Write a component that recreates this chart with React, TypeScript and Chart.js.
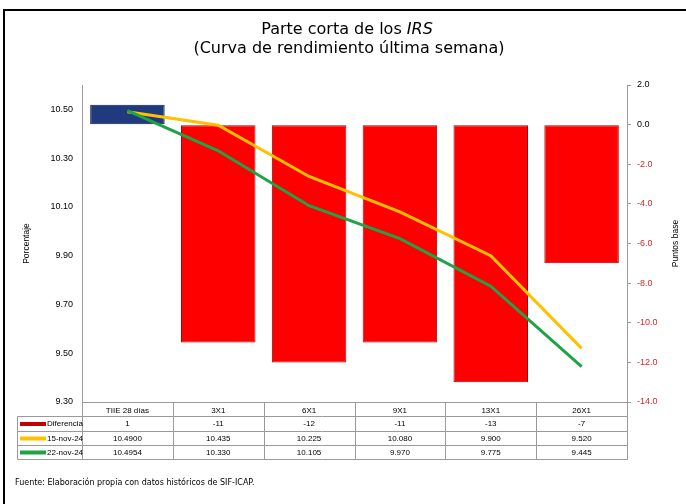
import React, { useEffect, useRef } from "react";
import { Chart, registerables } from "chart.js";

Chart.register(...registerables);

// Nodes of the short end of the IRS curve
const categories = ["TIIE 28 días", "3X1", "6X1", "9X1", "13X1", "26X1"];
// Change over the week, in basis points
const diferencia = [1, -11, -12, -11, -13, -7];
// Rates, in percent
const curva15nov = [10.49, 10.435, 10.225, 10.08, 9.9, 9.52];
const curva22nov = [10.4954, 10.33, 10.105, 9.97, 9.775, 9.445];

const seriesLabels = ["Diferencia", "15-nov-24", "22-nov-24"];
const leftTicks = [9.3, 9.5, 9.7, 9.9, 10.1, 10.3, 10.5];
const rightTicks = [-14, -12, -10, -8, -6, -4, -2, 0, 2];

const RED = "#FF0000";
const RED_EDGE = "#A80000";
const BLUE = "#1F3A7E";
const BLUE_EDGE = "#0C1B4A";
const YELLOW = "#FFC000";
const GREEN = "#1FA346";
const GRID = "#9A9A9A";
const FONT = "'Liberation Sans', Arial, sans-serif";
const TITLE_FONT = "'DejaVu Sans', Verdana, sans-serif";

const fmtRate = (v: number, i: number) => (i === 0 ? v.toFixed(4) : v.toFixed(3));

const decorations = {
  id: "decorations",
  afterDraw(chart: any) {
    const ctx: CanvasRenderingContext2D = chart.ctx;
    const { left, right, top, bottom } = chart.chartArea;
    ctx.save();

    // outer frame (left and top edges)
    ctx.strokeStyle = "#000";
    ctx.lineWidth = 2;
    ctx.beginPath();
    ctx.moveTo(4, chart.height);
    ctx.lineTo(4, 10);
    ctx.lineTo(chart.width, 10);
    ctx.stroke();

    // title
    ctx.fillStyle = "#000";
    ctx.textBaseline = "middle";
    const t1a = "Parte corta de los ";
    const t1b = "IRS";
    ctx.font = `16px ${TITLE_FONT}`;
    const wa = ctx.measureText(t1a).width;
    ctx.font = `italic 16px ${TITLE_FONT}`;
    const wb = ctx.measureText(t1b).width;
    const cx = 347;
    const x0 = cx - (wa + wb) / 2;
    ctx.textAlign = "left";
    ctx.font = `16px ${TITLE_FONT}`;
    ctx.fillText(t1a, x0, 30);
    ctx.font = `italic 16px ${TITLE_FONT}`;
    ctx.fillText(t1b, x0 + wa, 30);
    ctx.font = `16px ${TITLE_FONT}`;
    ctx.textAlign = "center";
    ctx.fillText("(Curva de rendimiento última semana)", cx + 2, 49);

    // right axis title, reading bottom to top
    ctx.save();
    ctx.translate(676, (top + bottom) / 2);
    ctx.rotate(-Math.PI / 2);
    ctx.font = `8.5px ${FONT}`;
    ctx.textAlign = "center";
    ctx.fillText("Puntos base", 0, 0);
    ctx.restore();

    // data table under the category axis
    const n = categories.length;
    const colW = (right - left) / n;
    const rowH = 14.25;
    const rows = [0, 1, 2, 3, 4].map((k) => Math.round(bottom + k * rowH) + 0.5);
    const legendLeft = 17.5;
    ctx.strokeStyle = GRID;
    ctx.lineWidth = 1;
    ctx.beginPath();
    for (let i = 1; i <= n; i++) {
      const x = Math.round(left + i * colW) + 0.5;
      ctx.moveTo(x, rows[0]);
      ctx.lineTo(x, rows[4]);
    }
    ctx.moveTo(Math.round(left) + 0.5, rows[0]);
    ctx.lineTo(Math.round(left) + 0.5, rows[4]);
    for (let k = 1; k <= 4; k++) {
      ctx.moveTo(legendLeft, rows[k]);
      ctx.lineTo(Math.round(right) + 0.5, rows[k]);
    }
    ctx.moveTo(legendLeft, rows[1]);
    ctx.lineTo(legendLeft, rows[4]);
    ctx.stroke();

    const rowValues = [
      diferencia.map((v) => v.toFixed(0)),
      curva15nov.map(fmtRate),
      curva22nov.map(fmtRate),
    ];
    const keyColors = ["#C00000", YELLOW, GREEN];
    ctx.font = `8px ${FONT}`;
    for (let r = 0; r < 3; r++) {
      const yc = (rows[r + 1] + rows[r + 2]) / 2;
      ctx.textAlign = "center";
      ctx.fillStyle = "#000";
      rowValues[r].forEach((s, i) => {
        ctx.fillText(s, left + (i + 0.5) * colW, yc);
      });
      ctx.strokeStyle = keyColors[r];
      ctx.lineWidth = 4;
      ctx.beginPath();
      ctx.moveTo(20, yc);
      ctx.lineTo(46, yc);
      ctx.stroke();
      ctx.textAlign = "left";
      ctx.fillText(seriesLabels[r], 47, yc);
    }

    // source note
    ctx.font = `8px ${TITLE_FONT}`;
    ctx.textAlign = "left";
    ctx.fillStyle = "#000";
    ctx.fillText("Fuente: Elaboración propia con datos históricos de SIF-ICAP.", 15, 483);

    ctx.restore();
  },
};

export default function App() {
  const ref = useRef<HTMLCanvasElement | null>(null);

  useEffect(() => {
    if (!ref.current) return;
    const chart = new Chart(ref.current, {
      type: "bar",
      data: {
        labels: categories,
        datasets: [
          {
            type: "line",
            label: seriesLabels[2],
            data: curva22nov,
            yAxisID: "y",
            borderColor: GREEN,
            borderWidth: 3,
            pointRadius: 0,
            tension: 0,
            order: 0,
          },
          {
            type: "line",
            label: seriesLabels[1],
            data: curva15nov,
            yAxisID: "y",
            borderColor: YELLOW,
            borderWidth: 3,
            pointRadius: 0,
            tension: 0,
            order: 1,
          },
          {
            type: "bar",
            label: seriesLabels[0],
            data: diferencia,
            yAxisID: "y1",
            backgroundColor: diferencia.map((_, i) => (i === 0 ? BLUE : RED)),
            borderColor: diferencia.map((_, i) => (i === 0 ? BLUE_EDGE : RED_EDGE)),
            borderWidth: 1,
            borderSkipped: false,
            categoryPercentage: 1,
            barPercentage: 0.82,
            order: 2,
          },
        ],
      },
      options: {
        responsive: false,
        animation: false,
        layout: { padding: { top: 85, left: 0, right: 0, bottom: 0 } },
        plugins: {
          legend: { display: false },
          title: { display: false },
          tooltip: { enabled: false },
        },
        scales: {
          x: {
            grid: { display: false, drawTicks: false, tickLength: 0 },
            border: { display: true, color: GRID },
            ticks: { font: { family: FONT, size: 8 }, color: "#000", padding: 4, maxRotation: 0 },
            afterFit: (s: any) => {
              s.height = 102;
            },
          },
          y: {
            position: "left",
            min: 9.3,
            max: 10.6,
            grid: { display: false, drawTicks: false, tickLength: 0 },
            border: { display: true, color: GRID },
            afterBuildTicks: (s: any) => {
              s.ticks = leftTicks.map((v) => ({ value: v }));
            },
            ticks: {
              font: { family: FONT, size: 9 },
              color: "#000",
              padding: 9,
              callback: (v: any) => Number(v).toFixed(2),
            },
            title: {
              display: true,
              text: "Porcentaje",
              font: { family: FONT, size: 8.5 },
              color: "#000",
              padding: { top: 22, bottom: 0 },
            },
            afterFit: (s: any) => {
              s.width = 82;
            },
          },
          y1: {
            position: "right",
            min: -14,
            max: 2,
            grid: { display: true, drawOnChartArea: false, drawTicks: true, tickLength: 4, color: GRID },
            border: { display: true, color: GRID },
            afterBuildTicks: (s: any) => {
              s.ticks = rightTicks.map((v) => ({ value: v }));
            },
            ticks: {
              font: { family: FONT, size: 9 },
              color: (c: any) => (c.tick && c.tick.value < 0 ? "#D02A2A" : "#000"),
              padding: 6,
              callback: (v: any) => Number(v).toFixed(1),
            },
            afterFit: (s: any) => {
              s.width = 59;
            },
          },
        },
      },
      plugins: [decorations],
    });
    return () => chart.destroy();
  }, []);

  return (
    <div style={{ position: "absolute", left: 0, top: 0, width: 686, height: 504, background: "#fff" }}>
      <canvas ref={ref} width={686} height={504} style={{ display: "block" }} />
    </div>
  );
}
